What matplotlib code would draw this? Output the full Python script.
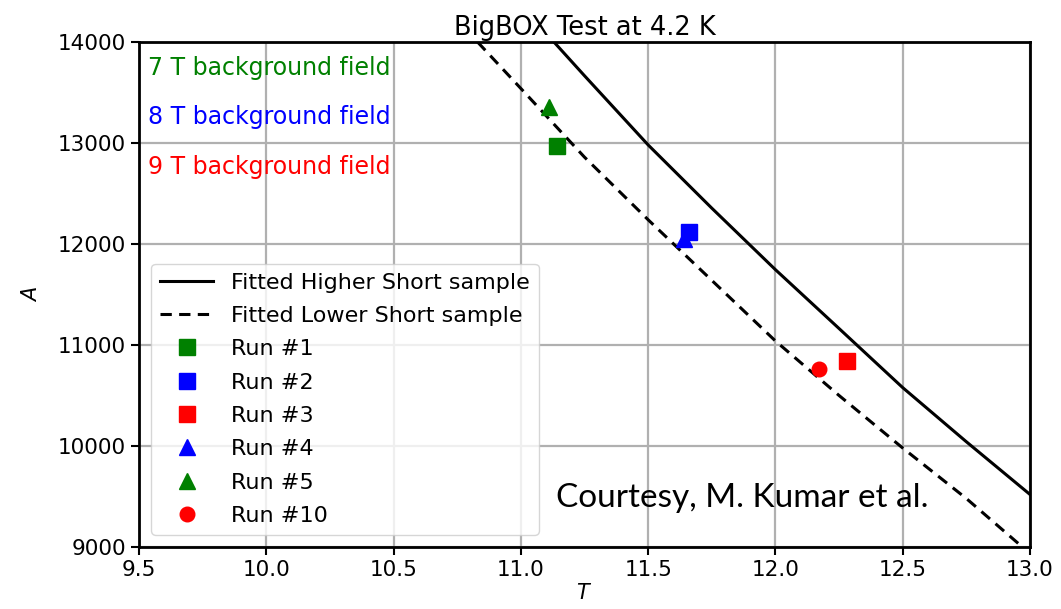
from __future__ import annotations

import matplotlib

matplotlib.use("Agg")
import matplotlib.pyplot as plt


# Values (T in K, A in amperes).
HIGHER_T = [11.13, 11.25, 11.5, 11.75, 12.0, 12.25, 12.5, 12.75, 13.0]
HIGHER_A = [14000, 13666, 12981, 12355, 11746, 11163, 10578, 10042, 9520]

LOWER_T = [10.83, 11.0, 11.25, 11.5, 11.75, 12.0, 12.25, 12.5, 12.75, 12.97]
LOWER_A = [14000, 13540, 12860, 12240, 11640, 11040, 10500, 9980, 9480, 9000]

RUN_LABELS = ["Run #1", "Run #2", "Run #3", "Run #4", "Run #5", "Run #10"]
RUN_T = [11.14, 11.66, 12.28, 11.64, 11.11, 12.17]
RUN_A = [12975, 12115, 10840, 12050, 13355, 10765]
RUN_COLORS = ["green", "blue", "red", "blue", "green", "red"]
RUN_MARKERS = ["s", "s", "s", "^", "^", "o"]

FIELD_LABELS = ["7 T background field", "8 T background field", "9 T background field"]
FIELD_COLORS = ["green", "blue", "red"]
FIELD_A = [13740, 13255, 12765]

X_TICKS = [9.5, 10.0, 10.5, 11.0, 11.5, 12.0, 12.5, 13.0]
Y_TICKS = [9000, 10000, 11000, 12000, 13000, 14000]


def main() -> None:
    fig = plt.figure(figsize=(10.61, 6.09), dpi=100)
    ax = fig.add_axes([0.131, 0.1018, 0.8398, 0.8292])

    ax.plot(HIGHER_T, HIGHER_A, color="black", linewidth=2.2,
            label="Fitted Higher Short sample")
    ax.plot(LOWER_T, LOWER_A, color="black", linewidth=2.2,
            linestyle=(0, (3.7, 2.4)), label="Fitted Lower Short sample")

    marker_sizes = {"s": 12, "^": 11, "o": 10.5}
    for label, t, a, color, marker in zip(RUN_LABELS, RUN_T, RUN_A, RUN_COLORS, RUN_MARKERS):
        ax.plot([t], [a], linestyle="none", marker=marker, color=color,
                markersize=marker_sizes[marker], label=label)

    for text, color, a in zip(FIELD_LABELS, FIELD_COLORS, FIELD_A):
        ax.text(9.535, a, text, color=color, fontsize=17, va="center", ha="left")

    ax.text(11.87, 9485, "Courtesy, M. Kumar et al.", fontsize=24,
            family=["Lato", "DejaVu Sans"], ha="center", va="center")

    ax.set_xlim(9.5, 13.0)
    ax.set_ylim(9000, 14000)
    ax.set_xticks(X_TICKS)
    ax.set_yticks(Y_TICKS)
    ax.tick_params(labelsize=15.5, length=6, width=1.5)
    ax.grid(True, color="#b0b0b0", linewidth=1.6)
    for spine in ax.spines.values():
        spine.set_linewidth(2)

    ax.set_title("BigBOX Test at 4.2 K", fontsize=18.5, pad=5)
    ax.set_xlabel("$T$", fontsize=15, labelpad=2)
    ax.set_ylabel("$A$", fontsize=15, labelpad=12)

    ax.legend(loc="lower left", fontsize=16, numpoints=1, handlelength=2.4,
              handletextpad=0.8, labelspacing=0.6, borderaxespad=0.55)

    fig.savefig("out.png", dpi=100)
    plt.close(fig)


if __name__ == "__main__":
    main()
